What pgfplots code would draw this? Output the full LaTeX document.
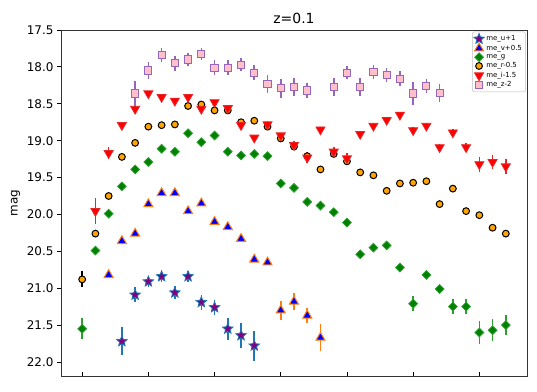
\documentclass[border=0pt]{standalone}
\usepackage{fontspec}
\setmainfont{DejaVu Sans}
\usepackage{pgfplots}
\usepackage{pgfplotstable}
\pgfplotsset{compat=1.18}

\definecolor{tabblue}{HTML}{1F77B4}
\definecolor{taborange}{HTML}{FF7F0E}
\definecolor{tabgreen}{HTML}{2CA02C}
\definecolor{tabred}{HTML}{E8262A}
\definecolor{tabpurple}{HTML}{9467BD}
\definecolor{mplgreen}{HTML}{008000}
\definecolor{mplorange}{HTML}{FFA500}
\definecolor{mplpink}{HTML}{FFC0CB}
\definecolor{mplpurple}{HTML}{800080}

% filled five-pointed star
\pgfdeclareplotmark{fstar}{%
  \pgfpathmoveto{\pgfpointpolar{90}{\pgfplotmarksize}}%
  \pgfpathlineto{\pgfpointpolar{126}{0.45\pgfplotmarksize}}%
  \pgfpathlineto{\pgfpointpolar{162}{\pgfplotmarksize}}%
  \pgfpathlineto{\pgfpointpolar{198}{0.45\pgfplotmarksize}}%
  \pgfpathlineto{\pgfpointpolar{234}{\pgfplotmarksize}}%
  \pgfpathlineto{\pgfpointpolar{270}{0.45\pgfplotmarksize}}%
  \pgfpathlineto{\pgfpointpolar{306}{\pgfplotmarksize}}%
  \pgfpathlineto{\pgfpointpolar{342}{0.45\pgfplotmarksize}}%
  \pgfpathlineto{\pgfpointpolar{18}{\pgfplotmarksize}}%
  \pgfpathlineto{\pgfpointpolar{54}{0.45\pgfplotmarksize}}%
  \pgfpathclose
  \pgfusepathqfillstroke
}

% x = epoch index, y = mag, e = error
\pgfplotstableread{
x y e
3 21.72 0.19
4 21.09 0.10
5 20.91 0.07
6 20.84 0.07
7 21.06 0.09
8 20.84 0.07
9 21.19 0.10
10 21.26 0.10
11 21.55 0.15
12 21.64 0.17
13 21.78 0.20
}\magu

\pgfplotstableread{
x y e
2 20.82 0.04
3 20.36 0.03
4 20.26 0.03
5 19.86 0.03
6 19.71 0.03
7 19.71 0.03
8 19.955 0.03
9 19.85 0.03
10 20.10 0.03
11 20.17 0.03
12 20.33 0.03
13 20.61 0.03
14 20.65 0.03
15 21.30 0.13
16 21.18 0.11
17 21.37 0.10
18 21.67 0.18
}\magv

\pgfplotstableread{
x y e
0 21.55 0.14
1 20.49 0.03
2 19.99 0.03
3 19.62 0.03
4 19.39 0.03
5 19.29 0.03
6 19.11 0.03
7 19.15 0.03
8 18.90 0.03
9 19.02 0.03
10 18.93 0.03
11 19.15 0.03
12 19.20 0.03
13 19.18 0.03
14 19.21 0.03
15 19.58 0.03
16 19.64 0.03
17 19.83 0.03
18 19.88 0.03
19 19.97 0.03
20 20.11 0.03
21 20.54 0.03
22 20.45 0.03
23 20.42 0.03
24 20.72 0.04
25 21.21 0.10
26 20.82 0.05
27 21.01 0.07
28 21.25 0.10
29 21.25 0.10
30 21.60 0.15
31 21.57 0.15
32 21.50 0.14
}\magg

\pgfplotstableread{
x y e
0 20.88 0.11
1 20.26 0.03
2 19.75 0.02
3 19.22 0.02
4 19.03 0.02
5 18.81 0.02
6 18.79 0.02
7 18.78 0.02
8 18.53 0.02
9 18.51 0.02
10 18.59 0.02
11 18.59 0.02
12 18.75 0.02
13 18.73 0.02
14 18.81 0.02
15 18.97 0.02
16 19.08 0.02
17 19.21 0.02
18 19.39 0.02
19 19.18 0.02
20 19.28 0.02
21 19.43 0.02
22 19.47 0.02
23 19.68 0.02
24 19.58 0.02
25 19.57 0.02
26 19.55 0.02
27 19.86 0.02
28 19.65 0.02
29 19.955 0.02
30 20.01 0.02
31 20.18 0.02
32 20.26 0.02
}\magr

\pgfplotstableread{
x y e
1 19.955 0.18
2 19.17 0.08
3 18.79 0.04
4 18.57 0.06
5 18.36 0.03
6 18.41 0.03
7 18.46 0.03
8 18.41 0.04
9 18.57 0.03
10 18.48 0.03
11 18.56 0.03
12 18.79 0.04
13 18.96 0.04
14 18.78 0.04
15 18.93 0.04
16 19.06 0.06
17 19.23 0.07
18 18.85 0.04
19 19.15 0.07
20 19.24 0.07
21 18.91 0.04
22 18.80 0.04
23 18.72 0.04
24 18.65 0.04
25 18.86 0.04
26 18.80 0.04
27 19.09 0.05
28 18.89 0.05
29 19.09 0.06
30 19.32 0.10
31 19.29 0.09
32 19.35 0.10
}\magi

\pgfplotstableread{
x y e
4 18.36 0.17
5 18.05 0.12
6 17.84 0.09
7 17.95 0.10
8 17.90 0.09
9 17.82 0.08
10 18.01 0.10
11 18.01 0.10
12 17.97 0.09
13 18.08 0.10
14 18.23 0.12
15 18.29 0.13
16 18.27 0.12
17 18.32 0.10
19 18.27 0.12
20 18.08 0.09
21 18.27 0.12
22 18.07 0.10
23 18.11 0.09
24 18.16 0.10
25 18.36 0.15
26 18.26 0.10
27 18.35 0.12
}\magz

\begin{document}
\begin{tikzpicture}
\begin{axis}[
    name=main,
    scale only axis,
    width=466bp,
    height=346bp,
    xmin=-1.6, xmax=33.6,
    ymin=17.5, ymax=22.19,
    y dir=reverse,
    xtick={0,5,...,30},
    xticklabels={},
    ytick={17.5,18,...,22},
    yticklabel style={/pgf/number format/fixed, /pgf/number format/fixed zerofill, /pgf/number format/precision=1, /pgf/number format/assume math mode=true},
    tick label style={font=\fontsize{12}{14}\selectfont},
    xtick pos=bottom, ytick pos=left,
    xtick align=inside, ytick align=outside,
    major tick length=4bp,
    tick style={black, line width=0.8bp},
    axis line style={black!80, line width=0.9bp},
    ylabel={mag},
    ylabel style={font=\fontsize{12}{14}\selectfont},
    title={z=0.1},
    title style={font=\fontsize{14}{16}\selectfont, yshift=-3bp},
    legend style={at={(0.997,0.995)}, anchor=north east, font=\fontsize{7}{8}\selectfont,
        draw=black!25, rounded corners=1.5bp, row sep=-1.2bp, inner sep=1.5bp,
        cells={anchor=west}},
    legend image post style={},
    legend image code/.code={\draw[#1] plot coordinates {(0.2cm,0cm)};},
    error bars/y dir=both,
    error bars/y explicit,
    error bars/error mark=none,
]
\addplot[only marks, mark=fstar, mark size=5.5bp, draw=tabblue, fill=mplpurple, line width=0.8bp,
    error bars/error bar style={tabblue, line width=1.6bp}]
    table[x=x, y=y, y error=e] {\magu};
\addlegendentry{me\_u+1}
\addplot[only marks, mark=triangle*, mark size=5.2bp, draw=taborange, fill=blue, line width=1bp,
    error bars/error bar style={taborange, line width=1.6bp}]
    table[x=x, y=y, y error=e] {\magv};
\addlegendentry{me\_v+0.5}
\addplot[only marks, mark=square*, mark size=3.1bp, mark options={rotate=45}, draw=tabgreen, fill=mplgreen, line width=0.8bp,
    error bars/error bar style={tabgreen, line width=1.6bp}]
    table[x=x, y=y, y error=e] {\magg};
\addlegendentry{me\_g}
\addplot[only marks, mark=*, mark size=3.4bp, draw=black, fill=mplorange, line width=1bp,
    error bars/error bar style={black, line width=1.6bp}]
    table[x=x, y=y, y error=e] {\magr};
\addlegendentry{me\_r-0.5}
\addplot[only marks, mark=triangle*, mark size=5.2bp, mark options={rotate=180}, draw=tabred, fill=red, line width=0.8bp,
    error bars/error bar style={tabred, line width=1.6bp}]
    table[x=x, y=y, y error=e] {\magi};
\addlegendentry{me\_i-1.5}
\addplot[only marks, mark=square*, mark size=3.6bp, draw=tabpurple, fill=mplpink, line width=1bp,
    error bars/error bar style={tabpurple, line width=1.6bp}]
    table[x=x, y=y, y error=e] {\magz};
\addlegendentry{me\_z-2}
\end{axis}
\path ([shift={(-61bp,-16bp)}]main.south west) rectangle ([shift={(10bp,30bp)}]main.north east);
\end{tikzpicture}
\end{document}
